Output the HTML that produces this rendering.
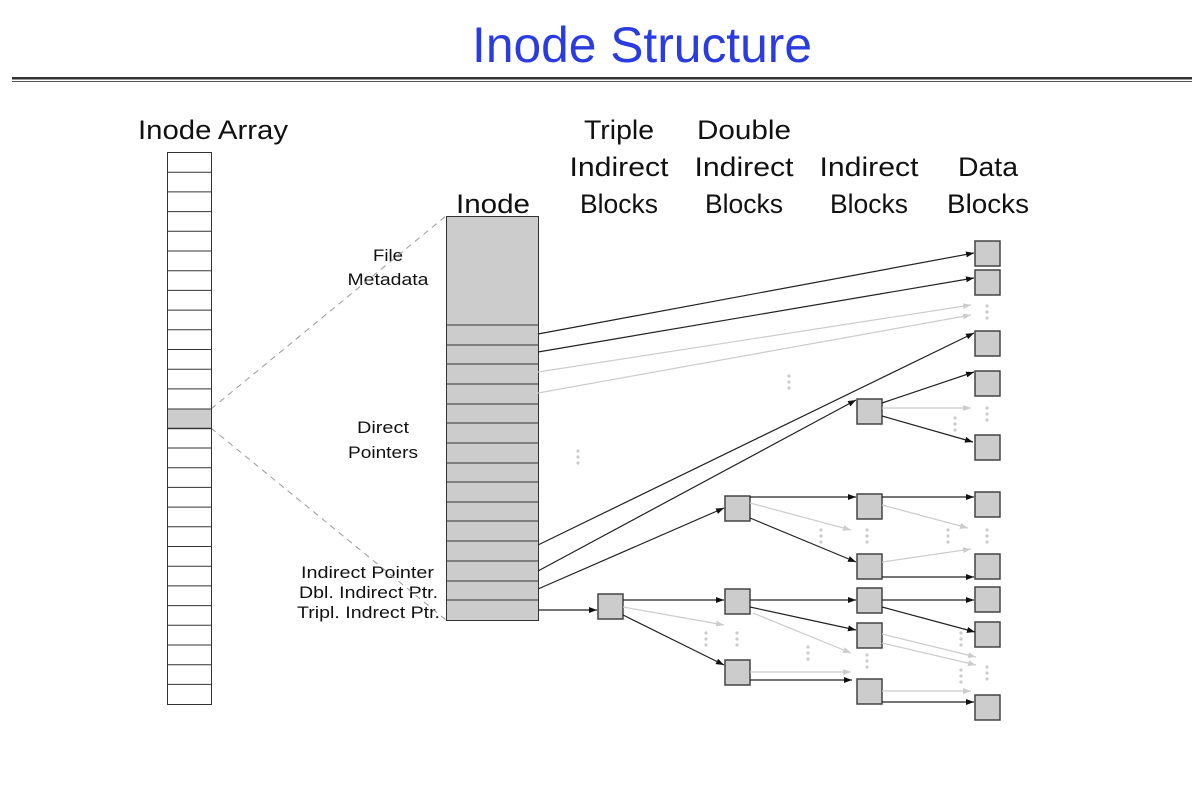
<!DOCTYPE html>
<html><head><meta charset="utf-8"><style>
body{margin:0;background:#fff}
svg{display:block}
text{font-family:"Liberation Sans",sans-serif}
</style></head><body>
<svg width="1192" height="794" viewBox="0 0 1192 794" xmlns="http://www.w3.org/2000/svg">
<defs>
<marker id="ab" markerWidth="8" markerHeight="6" refX="8" refY="3" orient="auto" markerUnits="userSpaceOnUse"><path d="M0,0 L8,3 L0,6z" fill="#111"/></marker>
<marker id="ag" markerWidth="8" markerHeight="6" refX="8" refY="3" orient="auto" markerUnits="userSpaceOnUse"><path d="M0,0 L8,3 L0,6z" fill="#ccc"/></marker>
<g id="d" fill="#ccc"><circle cx="0" cy="0" r="1.6"/><circle cx="0" cy="6" r="1.6"/><circle cx="0" cy="12" r="1.6"/></g>
</defs>
<text x="642" y="62" font-size="50" fill="#2a3be0" text-anchor="middle" textLength="340" lengthAdjust="spacingAndGlyphs">Inode Structure</text>
<rect x="12" y="77" width="1180" height="2.5" fill="#333"/>
<rect x="12" y="81" width="1180" height="1" fill="#555"/>
<g font-size="27" fill="#111" text-anchor="middle" lengthAdjust="spacingAndGlyphs">
<text x="213" y="139" textLength="150" lengthAdjust="spacingAndGlyphs">Inode Array</text>
<text x="493" y="213" textLength="74" lengthAdjust="spacingAndGlyphs">Inode</text>
<text x="619" y="139" textLength="70" lengthAdjust="spacingAndGlyphs">Triple</text><text x="619" y="176" textLength="99" lengthAdjust="spacingAndGlyphs">Indirect</text><text x="619" y="213" textLength="78" lengthAdjust="spacingAndGlyphs">Blocks</text>
<text x="744" y="139" textLength="94" lengthAdjust="spacingAndGlyphs">Double</text><text x="744" y="176" textLength="99" lengthAdjust="spacingAndGlyphs">Indirect</text><text x="744" y="213" textLength="78" lengthAdjust="spacingAndGlyphs">Blocks</text>
<text x="869" y="176" textLength="99" lengthAdjust="spacingAndGlyphs">Indirect</text><text x="869" y="213" textLength="78" lengthAdjust="spacingAndGlyphs">Blocks</text>
<text x="988" y="176" textLength="60" lengthAdjust="spacingAndGlyphs">Data</text><text x="988" y="213" textLength="82" lengthAdjust="spacingAndGlyphs">Blocks</text>
</g>
<g font-size="17" fill="#111">
<text x="388" y="261" text-anchor="middle" textLength="30" lengthAdjust="spacingAndGlyphs">File</text>
<text x="388" y="285" text-anchor="middle" textLength="81" lengthAdjust="spacingAndGlyphs">Metadata</text>
<text x="383" y="433" text-anchor="middle" textLength="52" lengthAdjust="spacingAndGlyphs">Direct</text>
<text x="383" y="458" text-anchor="middle" textLength="70" lengthAdjust="spacingAndGlyphs">Pointers</text>
<text x="434" y="578" text-anchor="end" textLength="133" lengthAdjust="spacingAndGlyphs">Indirect Pointer</text>
<text x="438" y="598" text-anchor="end" textLength="139" lengthAdjust="spacingAndGlyphs">Dbl. Indirect Ptr.</text>
<text x="440" y="618" text-anchor="end" textLength="143" lengthAdjust="spacingAndGlyphs">Tripl. Indrect Ptr.</text>
</g>
<line x1="211" y1="409" x2="446" y2="216" stroke="#999" stroke-dasharray="6,5"/>
<line x1="211" y1="428" x2="446" y2="620" stroke="#999" stroke-dasharray="6,5"/>
<g stroke="#333" stroke-width="1" fill="#fff">
<rect x="167.5" y="152.5" width="44" height="552"/>
<rect x="167.5" y="409" width="44" height="19.7" fill="#ccc"/>
</g>
<path stroke="#333" d="M167 172.2h44M167 191.9h44M167 211.6h44M167 231.3h44M167 251h44M167 270.7h44M167 290.4h44M167 310.1h44M167 329.8h44M167 349.5h44M167 369.2h44M167 388.9h44M167 428.3h44M167 448h44M167 467.7h44M167 487.4h44M167 507.1h44M167 526.8h44M167 546.5h44M167 566.2h44M167 585.9h44M167 605.6h44M167 625.3h44M167 645h44M167 664.7h44M167 684.4h44"/>
<rect x="446.5" y="216.5" width="92" height="404" fill="#ccc" stroke="#333"/>
<path stroke="#333" d="M446 325h92M446 345h92M446 364h92M446 384h92M446 404h92M446 423h92M446 443h92M446 463h92M446 482h92M446 502h92M446 521h92M446 541h92M446 561h92M446 581h92M446 600h92"/>
<g fill="#ccc" stroke="#444" stroke-width="1.5">
<rect x="975" y="241" width="25" height="25"/><rect x="975" y="270" width="25" height="25"/>
<rect x="975" y="331" width="25" height="25"/><rect x="975" y="371" width="25" height="25"/>
<rect x="975" y="435" width="25" height="25"/><rect x="975" y="492" width="25" height="25"/>
<rect x="975" y="554" width="25" height="25"/><rect x="975" y="587" width="25" height="25"/>
<rect x="975" y="622" width="25" height="25"/><rect x="975" y="695" width="25" height="25"/>
<rect x="857" y="399" width="25" height="25"/><rect x="857" y="494" width="25" height="25"/>
<rect x="857" y="554" width="25" height="25"/><rect x="857" y="588" width="25" height="25"/>
<rect x="857" y="623" width="25" height="25"/><rect x="857" y="679" width="25" height="25"/>
<rect x="725" y="496" width="25" height="25"/><rect x="725" y="589" width="25" height="25"/>
<rect x="725" y="660" width="25" height="25"/>
<rect x="598" y="594" width="25" height="25"/>
</g>
<g stroke="#222" stroke-width="1.2" marker-end="url(#ab)" fill="none">
<line x1="538" y1="334" x2="974" y2="253"/>
<line x1="538" y1="352" x2="974" y2="278"/>
<line x1="538" y1="545" x2="974" y2="333"/>
<line x1="538" y1="571" x2="856" y2="400"/>
<line x1="538" y1="589" x2="724" y2="508"/>
<line x1="538" y1="610" x2="597" y2="610"/>
<line x1="882" y1="403" x2="974" y2="372"/>
<line x1="882" y1="416" x2="973" y2="442"/>
<line x1="623" y1="600" x2="724" y2="600"/>
<line x1="623" y1="615" x2="724" y2="665"/>
<line x1="750" y1="497" x2="856" y2="497"/>
<line x1="750" y1="518" x2="856" y2="562"/>
<line x1="882" y1="497" x2="974" y2="497"/>
<line x1="882" y1="577" x2="974" y2="577"/>
<line x1="750" y1="600" x2="856" y2="600"/>
<line x1="750" y1="607" x2="856" y2="630"/>
<line x1="882" y1="600" x2="974" y2="600"/>
<line x1="882" y1="607" x2="975" y2="632"/>
<line x1="750" y1="680" x2="852" y2="680"/>
<line x1="882" y1="702" x2="974" y2="702"/>
</g>
<g stroke="#ccc" stroke-width="1.2" marker-end="url(#ag)" fill="none">
<line x1="538" y1="372" x2="971" y2="305"/>
<line x1="538" y1="393" x2="971" y2="315"/>
<line x1="882" y1="408" x2="971" y2="408"/>
<line x1="623" y1="607" x2="724" y2="625"/>
<line x1="750" y1="503" x2="851" y2="530"/>
<line x1="882" y1="505" x2="968" y2="528"/>
<line x1="882" y1="562" x2="971" y2="549"/>
<line x1="753" y1="613" x2="851" y2="653"/>
<line x1="882" y1="634" x2="976" y2="657"/>
<line x1="882" y1="643" x2="976" y2="665"/>
<line x1="750" y1="672" x2="851" y2="672"/>
<line x1="882" y1="691" x2="971" y2="691"/>
</g>
<use href="#d" x="987" y="306"/><use href="#d" x="789" y="376"/><use href="#d" x="578" y="451"/>
<use href="#d" x="987" y="408"/><use href="#d" x="955" y="418"/>
<use href="#d" x="821" y="530"/><use href="#d" x="867" y="530"/><use href="#d" x="948" y="530"/><use href="#d" x="987" y="530"/>
<use href="#d" x="706" y="633"/><use href="#d" x="737" y="633"/><use href="#d" x="808" y="647"/>
<use href="#d" x="867" y="655"/><use href="#d" x="961" y="633"/><use href="#d" x="961" y="670"/><use href="#d" x="987" y="667"/>
</svg>
</body></html>
